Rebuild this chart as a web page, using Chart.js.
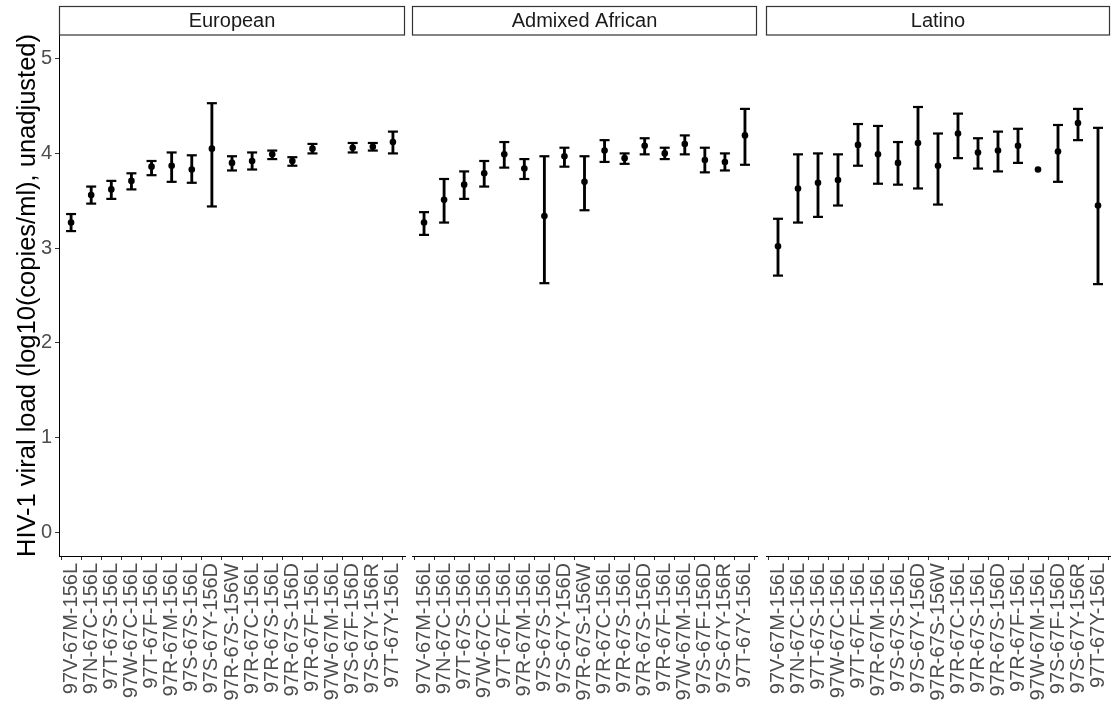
<!DOCTYPE html>
<html>
<head>
<meta charset="utf-8">
<script src="https://cdn.jsdelivr.net/npm/chart.js@4/dist/chart.umd.min.js"></script>
<style>
  html, body { margin: 0; padding: 0; background: #fff; }
  #wrap { position: relative; width: 1118px; height: 707px; }
  #wrap canvas { position: absolute; left: 0; top: 0; }
</style>
</head>
<body>
<div id="wrap">
  <canvas id="p1" width="1118" height="707"></canvas>
  <canvas id="p2" width="1118" height="707"></canvas>
  <canvas id="p3" width="1118" height="707"></canvas>
</div>
<script>
// Haplotype categories (x axis) and y axis ticks
const categories = [
  '97V-67M-156L', '97N-67C-156L', '97T-67S-156L', '97W-67C-156L', '97T-67F-156L',
  '97R-67M-156L', '97S-67S-156L', '97S-67Y-156D', '97R-67S-156W', '97R-67C-156L',
  '97R-67S-156L', '97R-67S-156D', '97R-67F-156L', '97W-67M-156L', '97S-67F-156D',
  '97S-67Y-156R', '97T-67Y-156L'
];
const yTicks = [0, 1, 2, 3, 4, 5];
const panelNames = ['European', 'Admixed African', 'Latino'];

// Mean viral load and interval bounds per ancestry group
const europeanMean = [3.27, 3.56, 3.62, 3.71, 3.86, 3.87, 3.83, 4.05, 3.90, 3.92, 3.99, 3.92, 4.05, null, 4.06, 4.07, 4.12];
const europeanLow  = [3.18, 3.47, 3.52, 3.62, 3.77, 3.70, 3.69, 3.44, 3.82, 3.83, 3.94, 3.87, 4.00, null, 4.01, 4.03, 4.00];
const europeanHigh = [3.36, 3.65, 3.71, 3.79, 3.92, 4.01, 3.98, 4.53, 3.97, 4.01, 4.03, 3.96, 4.10, null, 4.11, 4.11, 4.23];

const africanMean = [3.27, 3.51, 3.67, 3.79, 3.99, 3.84, 3.34, 3.97, 3.70, 4.03, 3.95, 4.08, 4.00, 4.10, 3.93, 3.91, 4.19];
const africanLow  = [3.14, 3.27, 3.52, 3.65, 3.85, 3.73, 2.63, 3.86, 3.40, 3.91, 3.89, 3.99, 3.94, 3.99, 3.80, 3.82, 3.88];
const africanHigh = [3.38, 3.73, 3.81, 3.92, 4.12, 3.94, 3.97, 4.06, 3.97, 4.14, 4.00, 4.16, 4.06, 4.19, 4.06, 4.00, 4.47];

const latinoMean = [3.02, 3.63, 3.69, 3.72, 4.09, 3.99, 3.90, 4.11, 3.87, 4.21, 4.01, 4.03, 4.08, 3.83, 4.02, 4.32, 3.45];
const latinoLow  = [2.71, 3.27, 3.33, 3.45, 3.87, 3.68, 3.67, 3.63, 3.46, 3.95, 3.84, 3.81, 3.90, null, 3.70, 4.14, 2.62];
const latinoHigh = [3.31, 3.99, 4.00, 3.99, 4.31, 4.29, 4.12, 4.49, 4.21, 4.42, 4.16, 4.23, 4.26, null, 4.30, 4.47, 4.27];

const FONT = "'Liberation Sans', Arial, Helvetica, sans-serif";
const W = 1118, H = 707;
const PLOT_TOP = 35, PLOT_BOTTOM = 556;

// Facet strip drawn above each panel's plot area
const stripPlugin = {
  id: 'strip',
  afterDraw(chart, args, opts) {
    const {ctx, chartArea} = chart;
    const top = 6, bottom = chartArea.top;
    ctx.save();
    ctx.fillStyle = '#ffffff';
    ctx.fillRect(chartArea.left, top, chartArea.right - chartArea.left, bottom - top);
    ctx.strokeStyle = '#333333';
    ctx.lineWidth = 1.2;
    ctx.strokeRect(chartArea.left + 0.5, top + 0.5, chartArea.right - chartArea.left - 1, bottom - top - 0.5);
    ctx.fillStyle = '#1A1A1A';
    ctx.font = '20px ' + FONT;
    ctx.textAlign = 'center';
    ctx.textBaseline = 'middle';
    ctx.fillText(opts.label, (chartArea.left + chartArea.right) / 2, (top + bottom) / 2 + 1);
    ctx.restore();
  }
};

function makePanel(canvasId, label, mean, low, high, left, right, showY) {
  const idx = categories.map((_, i) => i);
  const bars = idx.map(i => (low[i] == null || high[i] == null) ? {x: i, y: null} : {x: i, y: [low[i], high[i]]});
  const pts = arr => idx.map(i => ({x: i, y: arr[i]}));

  return new Chart(document.getElementById(canvasId), {
    type: 'bar',
    data: {
      datasets: [
        {
          type: 'line', data: pts(mean), showLine: false,
          pointRadius: 3.3, pointBackgroundColor: '#000', pointBorderColor: '#000', pointBorderWidth: 0
        },
        {
          type: 'line', data: pts(low), showLine: false,
          pointStyle: 'line', pointRadius: 5, pointBorderColor: '#000', pointBorderWidth: 2.2
        },
        {
          type: 'line', data: pts(high), showLine: false,
          pointStyle: 'line', pointRadius: 5, pointBorderColor: '#000', pointBorderWidth: 2.2
        },
        {
          type: 'bar', data: bars, backgroundColor: '#000', borderWidth: 0,
          barThickness: 2.2
        }
      ]
    },
    options: {
      responsive: false,
      animation: false,
      events: [],
      layout: { padding: { left: left, right: W - right, top: PLOT_TOP, bottom: 0 } },
      plugins: {
        legend: { display: false },
        tooltip: { enabled: false },
        strip: { label: label }
      },
      scales: {
        x: {
          type: 'linear',
          min: -0.6, max: categories.length - 1 + 0.6,
          offset: false,
          afterBuildTicks: s => { s.ticks = idx.map(i => ({value: i})); },
          afterFit: s => { s.height = H - PLOT_BOTTOM; s.paddingLeft = 0; s.paddingRight = 0; },
          ticks: {
            autoSkip: false, minRotation: 90, maxRotation: 90,
            padding: 3,
            font: { family: FONT, size: 20 }, color: '#4D4D4D',
            callback: v => categories[v]
          },
          grid: { drawOnChartArea: false, drawTicks: true, tickLength: 4, color: '#333333', lineWidth: 1 },
          border: { display: true, color: '#000', width: 1 }
        },
        y: {
          display: showY,
          min: -0.25, max: 5.25,
          afterBuildTicks: s => { s.ticks = yTicks.map(v => ({value: v})); },
          afterFit: s => { s.width = showY ? 59 : 0; s.paddingTop = 0; s.paddingBottom = 0; },
          ticks: { padding: 3, font: { family: FONT, size: 20 }, color: '#4D4D4D' },
          grid: { drawOnChartArea: false, drawTicks: true, tickLength: 4, color: '#333333', lineWidth: 1 },
          border: { display: true, color: '#000', width: 1 },
          title: {
            display: showY,
            text: 'HIV-1 viral load (log10(copies/ml), unadjusted)',
            font: { family: FONT, size: 25.5 }, color: '#000',
            padding: { top: 13, bottom: 0 }
          }
        }
      }
    },
    plugins: [stripPlugin]
  });
}

makePanel('p1', panelNames[0], europeanMean, europeanLow, europeanHigh, 0, 405, true);
makePanel('p2', panelNames[1], africanMean, africanLow, africanHigh, 412, 757, false);
makePanel('p3', panelNames[2], latinoMean, latinoLow, latinoHigh, 766, 1110, false);
</script>
</body>
</html>
